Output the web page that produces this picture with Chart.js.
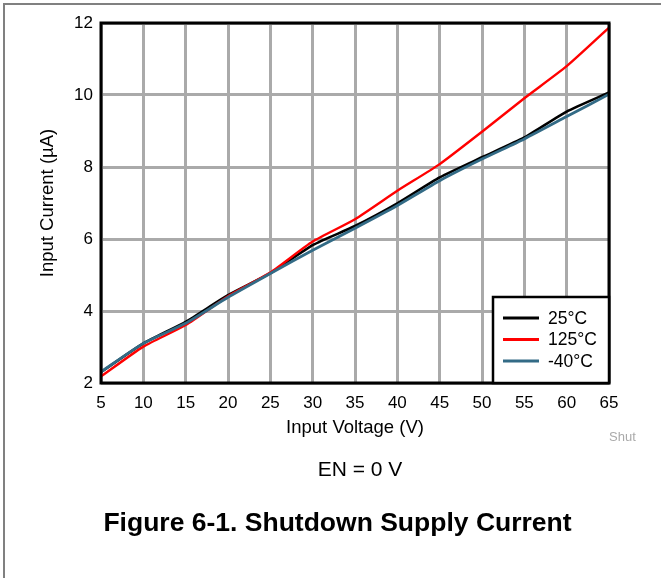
<!DOCTYPE html>
<html>
<head>
<meta charset="utf-8">
<script src="https://cdn.jsdelivr.net/npm/chart.js@4"></script>
<style>
  html, body { margin: 0; padding: 0; background: #fff; }
  #wrap { position: relative; width: 661px; height: 578px; overflow: hidden; font-family: "Liberation Sans", Arial, sans-serif; }
  #frame { position: absolute; left: 3px; top: 3px; width: 800px; height: 800px; border-left: 2px solid #808080; border-top: 2px solid #808080; }
  canvas { position: absolute; left: 0; top: 0; }
  .txt { position: absolute; white-space: nowrap; color: #000; }
</style>
</head>
<body>
<div id="wrap">
  <div id="frame"></div>
  <canvas id="c" width="661" height="578"></canvas>
  <div class="txt" id="shut" style="left:609px; top:429px; font-size:13px; color:#aaaaaa;">Shut</div>
  <div class="txt" id="en" style="left:0; width:720px; text-align:center; top:457px; font-size:21px;">EN = 0 V</div>
  <div class="txt" id="fig" style="left:0; width:675px; text-align:center; top:507px; font-size:26.5px; font-weight:bold;">Figure 6-1. Shutdown Supply Current</div>
</div>
<script>
// ---- data ----
const voltage = [5, 10, 15, 20, 25, 30, 35, 40, 45, 50, 55, 60, 65];
const current25 = [2.30, 3.10, 3.70, 4.44, 5.05, 5.83, 6.36, 6.99, 7.71, 8.27, 8.82, 9.54, 10.07];
const current125 = [2.18, 3.01, 3.61, 4.41, 5.07, 5.93, 6.55, 7.34, 8.08, 8.98, 9.91, 10.80, 11.87];
const currentM40 = [2.31, 3.10, 3.66, 4.38, 5.04, 5.69, 6.30, 6.93, 7.62, 8.22, 8.78, 9.40, 10.02];
const seriesLabels = ['25°C', '125°C', '-40°C'];
const xTicks = [5, 10, 15, 20, 25, 30, 35, 40, 45, 50, 55, 60, 65];
const yTicks = [2, 4, 6, 8, 10, 12];

const FONT = '"Liberation Sans", Arial, sans-serif';
const pts = (arr) => voltage.map((v, i) => ({ x: v, y: arr[i] }));

const frameAndLegend = {
  id: 'frameAndLegend',
  afterDatasetsDraw(chart) {
    const { ctx, chartArea: a } = chart;
    ctx.save();
    ctx.strokeStyle = '#000';
    ctx.lineWidth = 3;
    ctx.strokeRect(a.left, a.top, a.right - a.left, a.bottom - a.top);
    // legend box (bottom-right inside plot area)
    const bw = 116, bh = 86;
    const bx = a.right - bw, by = a.bottom - bh;
    ctx.fillStyle = '#fff';
    ctx.fillRect(bx, by, bw, bh);
    ctx.lineWidth = 2.5;
    ctx.strokeRect(bx, by, bw, bh);
    const ds = chart.data.datasets;
    const order = [0, 1, 2];
    ctx.font = '17.5px ' + FONT;
    ctx.textBaseline = 'middle';
    ctx.textAlign = 'left';
    order.forEach((di, k) => {
      const d = ds[di];
      const yy = by + 21 + k * 21.5;
      ctx.strokeStyle = d.borderColor;
      ctx.lineWidth = 3;
      ctx.beginPath();
      ctx.moveTo(bx + 10, yy);
      ctx.lineTo(bx + 46, yy);
      ctx.stroke();
      ctx.fillStyle = '#000';
      ctx.fillText(d.label, bx + 55, yy + 1);
    });
    ctx.restore();
  }
};

new Chart(document.getElementById('c'), {
  type: 'line',
  data: {
    datasets: [
      { label: seriesLabels[0], data: pts(current25), borderColor: '#000000', borderWidth: 2.6, order: 2 },
      { label: seriesLabels[1], data: pts(current125), borderColor: '#ff0000', borderWidth: 2.4, order: 1 },
      { label: seriesLabels[2], data: pts(currentM40), borderColor: '#336b86', borderWidth: 2.8, order: 0 }
    ]
  },
  options: {
    responsive: false,
    animation: false,
    events: [],
    elements: { point: { radius: 0 }, line: { tension: 0.2, fill: false } },
    layout: { padding: { left: 0, top: 23, right: 52, bottom: 135 } },
    plugins: { legend: { display: false }, tooltip: { enabled: false } },
    scales: {
      x: {
        type: 'linear', min: 5, max: 65,
        afterBuildTicks: (s) => { s.ticks = xTicks.map(v => ({ value: v })); },
        afterFit: (s) => { s.height = 60; },
        grid: { color: '#aaaaaa', lineWidth: 3, drawTicks: false },
        border: { display: false },
        ticks: { color: '#000', font: { family: FONT, size: 17 }, padding: 10, maxRotation: 0, autoSkip: false },
        title: { display: true, text: 'Input Voltage (V)', color: '#000', font: { family: FONT, size: 18.5 }, padding: { top: 0, bottom: 4 } }
      },
      y: {
        type: 'linear', min: 2, max: 12,
        afterBuildTicks: (s) => { s.ticks = yTicks.map(v => ({ value: v })); },
        afterFit: (s) => { s.width = 101; },
        grid: { color: '#aaaaaa', lineWidth: 3, drawTicks: false },
        border: { display: false },
        ticks: { color: '#000', font: { family: FONT, size: 17 }, padding: 8 },
        title: { display: true, text: 'Input Current (µA)', color: '#000', font: { family: FONT, size: 18.5 }, padding: { top: 37, bottom: 0 } }
      }
    }
  },
  plugins: [frameAndLegend]
});
</script>
</body>
</html>
